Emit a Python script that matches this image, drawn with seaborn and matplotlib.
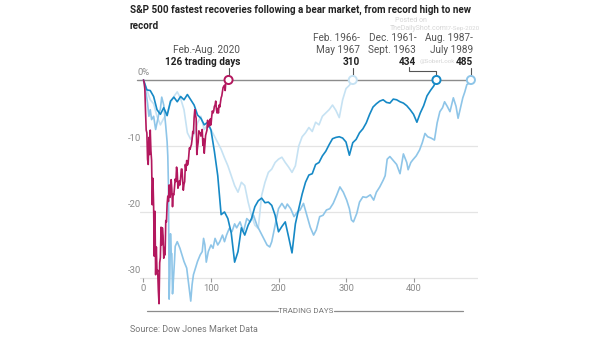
import numpy as np
import pandas as pd
import matplotlib
matplotlib.use("Agg")
import matplotlib.pyplot as plt
from matplotlib.lines import Line2D
from matplotlib import font_manager as fm
import seaborn as sns

# ---------------- data ----------------
title_line1 = "S&P 500 fastest recoveries following a bear market, from record high to new"
title_line2 = "record"
source_text = "Source: Dow Jones Market Data"
x_ticks = [0, 100, 200, 300, 400]
y_ticks = [0, -10, -20, -30]
y_tick_labels = ["0%", "-10", "-20", "-30"]

periods = ["Feb. 1966-May 1967", "Aug. 1987-July 1989", "Dec. 1961-Sept. 1963", "Feb.-Aug. 2020"]
period_colors = ["#c6e2f3", "#8ec5e8", "#1689c6", "#b3185e"]
recovery_days = [310, 485, 434, 126]

days_1966 = list(range(0, 306, 5)) + [310]
pct_1966 = [0, -1.5, -3.0, -3.6, -5.5, -6.8, -5.8, -5.0, -3.5, -2.5,
            -1.8, -2.8, -4.5, -8.0, -9.0, -8.2, -6.5, -5.5, -7.5, -6.8,
            -7.5, -8.5, -9.5, -10.5, -11.8, -13.0, -14.5, -16.0, -17.0, -15.5,
            -16.0, -18.5, -20.5, -22.0, -22.5, -17.5, -15.5, -14.0, -13.5, -12.5,
            -12.0, -11.7, -12.5, -13.2, -14.0, -13.0, -10.0, -8.6, -8.0, -7.2,
            -7.8, -6.4, -6.8, -5.5, -5.0, -4.5, -3.8, -4.6, -5.7, -3.0,
            -1.3, -0.8, 0]

days_1987 = [0, 2, 4, 6, 8, 10, 12, 15, 18, 20,
             23, 25, 27, 30, 33, 35, 36, 37, 38, 39,
             40, 41, 42, 43, 44, 46, 47, 50, 54, 57,
             60, 64, 67, 70, 72, 74, 77, 80, 84, 87,
             89, 91, 93, 96, 100, 103, 106, 110, 113, 117,
             120, 123, 127, 131, 135, 138, 143, 148, 153, 158,
             163, 168, 173, 178, 183, 187, 190, 195, 200, 205,
             210, 213, 218, 223, 228, 232, 237, 242, 247, 252,
             256, 261, 266, 271, 276, 281, 286, 291, 296, 301,
             305, 308, 311, 316, 320, 325, 330, 336, 341, 345,
             350, 355, 358, 361, 365, 370, 375, 380, 385, 390,
             392, 396, 399, 404, 409, 413, 417, 421, 426, 431,
             435, 439, 443, 446, 450, 454, 459, 463, 466, 470,
             473, 476, 479, 482, 485]
pct_1987 = [0, -1.0, -2.1, -3.5, -5.5, -4.5, -6.0, -5.5, -7.5, -6.5,
            -5.0, -4.4, -2.6, -3.8, -7.0, -9.4, -11.5, -16.1, -33.2, -29.7,
            -23.3, -26.3, -26.3, -32.4, -30.8, -27.3, -25.2, -24.5, -25.5, -26.5,
            -27.5, -28.5, -31.0, -33.5, -31.0, -29.5, -28.5, -27.5, -26.5, -26.0,
            -24.0, -25.0, -27.6, -26.0, -25.0, -25.5, -24.0, -25.0, -24.5, -23.5,
            -24.5, -23.5, -22.5, -23.0, -21.8, -22.4, -21.5, -23.0, -21.0, -21.5,
            -20.5, -22.0, -23.0, -24.0, -25.0, -25.3, -24.5, -22.0, -19.5, -18.7,
            -19.5, -18.8, -19.5, -20.7, -20.0, -19.7, -18.7, -20.5, -22.3, -23.5,
            -22.7, -20.7, -20.5, -19.7, -19.5, -18.7, -17.5, -16.2, -17.0, -18.2,
            -19.5, -21.2, -21.5, -20.2, -18.5, -17.7, -17.8, -17.4, -18.2, -17.0,
            -16.2, -15.2, -14.5, -12.0, -11.6, -12.2, -12.8, -14.2, -11.2, -12.5,
            -13.6, -12.5, -12.1, -11.5, -10.6, -9.5, -8.1, -8.6, -8.8, -9.1,
            -6.5, -4.8, -4.2, -3.3, -4.0, -4.8, -2.7, -4.0, -5.8, -4.0,
            -2.7, -1.8, -0.7, -0.5, 0]

days_1961 = list(range(0, 431, 5)) + [434]
pct_1961 = [0, -1.5, -1.6, -2.5, -4.5, -5.2, -4.2, -5.4, -3.2, -2.6,
            -3.3, -2.5, -3.0, -2.2, -3.0, -3.8, -5.3, -5.8, -6.8, -6.4,
            -7.6, -10.8, -14.5, -20.4, -20.0, -21.0, -23.2, -27.6, -26.0, -22.4,
            -23.5, -22.0, -21.0, -19.2, -18.3, -17.9, -18.6, -18.5, -19.0, -20.5,
            -23.0, -22.2, -21.5, -23.8, -26.2, -21.8, -19.5, -17.3, -15.5, -14.4,
            -14.2, -12.8, -12.5, -11.5, -10.8, -9.8, -8.9, -8.7, -8.6, -8.8,
            -9.4, -11.4, -9.5, -9.0, -8.0, -7.4, -6.5, -5.2, -4.1, -3.6,
            -3.2, -3.0, -3.4, -3.5, -2.9, -3.0, -3.3, -3.5, -3.9, -4.5,
            -5.2, -6.4, -5.0, -3.9, -2.4, -1.6, -0.9, 0]

days_2020 = list(range(0, 127))
pct_2020 = [0, -0.4, -1.4, -4.7, -7.6, -8.0, -12.0, -12.8, -8.7, -11.3,
            -7.6, -10.7, -12.2, -18.9, -14.9, -19.1, -26.7, -19.9, -29.5, -25.3,
            -29.2, -28.8, -31.9, -33.9, -27.7, -26.9, -22.3, -25.0, -22.4, -23.6,
            -27.0, -25.4, -26.5, -21.3, -21.5, -18.8, -17.6, -18.4, -15.9, -17.8,
            -17.3, -15.1, -16.6, -19.2, -17.3, -17.4, -16.2, -15.0, -15.4, -13.2,
            -14.0, -16.4, -16.0, -15.3, -15.9, -14.9, -13.5, -13.5, -15.2, -16.7,
            -15.8, -15.4, -12.8, -13.7, -12.2, -12.9, -12.7, -11.6, -10.3, -10.5,
            -10.1, -9.8, -9.0, -7.8, -8.1, -5.7, -4.5, -5.3, -5.8, -11.3,
            -10.2, -9.4, -7.7, -8.0, -8.0, -8.5, -7.9, -7.5, -9.9, -8.9,
            -11.1, -9.8, -8.4, -8.0, -7.6, -6.1, -7.1, -6.4, -6.9, -5.9,
            -6.8, -5.6, -4.7, -5.0, -4.7, -4.0, -3.8, -3.2, -4.4, -5.0,
            -4.3, -5.0, -3.8, -4.1, -3.4, -2.7, -2.4, -1.7, -1.1, -1.0,
            -0.8, -1.6, -0.2, -0.4, -0.4, -0.1, 0.0]

label_line1 = ["Feb. 1966-", "Aug. 1987-", "Dec. 1961-", "Feb.-Aug. 2020"]
label_line2 = ["May 1967", "July 1989", "Sept. 1963", "126 trading days"]
label_bold = ["310", "485", "434", ""]

# ---------------- build frame ----------------
frames = []
for name, d, p in zip(periods,
                      [days_1966, days_1987, days_1961, days_2020],
                      [pct_1966, pct_1987, pct_1961, pct_2020]):
    frames.append(pd.DataFrame({"day": d, "pct": p, "period": name}))
df = pd.concat(frames, ignore_index=True)

sns.set_theme(style="white")
names = {f.name for f in fm.fontManager.ttflist}
narrow = "Liberation Sans Narrow" if "Liberation Sans Narrow" in names else "Roboto"
plt.rcParams["font.family"] = [narrow, "DejaVu Sans"]

fig = plt.figure(figsize=(6.05, 3.41), dpi=100)
fig.patch.set_facecolor("white")
ax = fig.add_axes([0.2316, 0.0977, 0.5579, 0.6871])
ax.set_facecolor("white")

for v in y_ticks[1:]:
    ax.axhline(v, color="#e4e4e4", lw=0.9, zorder=0)
ax.axhline(0, xmin=-0.01, xmax=0.99, color="#8c8c8c", lw=1.0, zorder=1, clip_on=False)

sns.lineplot(data=df, x="day", y="pct", hue="period", hue_order=periods,
             palette=dict(zip(periods, period_colors)), estimator=None, sort=False,
             linewidth=1.2, legend=False, ax=ax, zorder=3)

ax.scatter(recovery_days, [0] * len(recovery_days), s=34, facecolor="white",
           edgecolor=period_colors, linewidth=1.4, zorder=6, clip_on=False)

ax.set_xlim(-5, 495)
ax.set_ylim(-34.5, 1.0)
for s in ["top", "right", "left"]:
    ax.spines[s].set_visible(False)
ax.spines["bottom"].set_position(("data", -30))
ax.spines["bottom"].set_color("none")
ax.set_xticks(x_ticks)
ax.set_xticklabels([str(t) for t in x_ticks])
ax.tick_params(axis="x", direction="out", length=3, width=0.8, color="#9a9a9a",
               labelsize=6.8, labelcolor="#8a8a8a", pad=1.5, bottom=True)
ax.set_yticks([])
ax.set_xlabel("")
ax.set_ylabel("")

# y labels
for v, lab in zip(y_ticks, y_tick_labels):
    if v == 0:
        ax.text(-9.5, v + 0.4, lab, ha="left", va="bottom", fontsize=6.8, color="#8a8a8a")
    else:
        ax.text(-3.5, v + 0.4, lab, ha="right", va="bottom", fontsize=6.8, color="#8a8a8a")

# annotations
fs_ann = 7.2
label_right = [321, 488, 404, 143]
for i, name in enumerate(periods):
    xr = label_right[i]
    if label_bold[i]:
        ax.text(xr, 6.4, label_line1[i], ha="right", va="center", fontsize=fs_ann,
                color="#555555", clip_on=False, zorder=7)
        ax.text(xr, 4.6, label_line2[i], ha="right", va="center", fontsize=fs_ann,
                color="#555555", clip_on=False, zorder=7)
        ax.text(xr, 2.7, label_bold[i], ha="right", va="center", fontsize=fs_ann,
                color="#222222", fontweight="bold", clip_on=False, zorder=7)
    else:
        ax.text(xr, 4.6, label_line1[i], ha="right", va="center", fontsize=fs_ann,
                color="#555555", clip_on=False, zorder=7)
        ax.text(xr, 2.7, label_line2[i], ha="right", va="center", fontsize=fs_ann,
                color="#222222", fontweight="bold", clip_on=False, zorder=7)
    d = recovery_days[i]
    if d == 434:
        ax.plot([393, 393, d, d], [1.9, 1.4, 1.4, 0.65], color="#555555", lw=0.8,
                clip_on=False, zorder=4)
    else:
        ax.plot([d, d], [1.8, 0.65], color="#555555", lw=0.8, clip_on=False, zorder=4)

# title, source, axis label
fig.text(130 / 605, 1 - 10 / 341, title_line1, ha="left", va="center", fontsize=7.1,
         fontweight="bold", color="#222222")
fig.text(130 / 605, 1 - 26 / 341, title_line2, ha="left", va="center", fontsize=7.1,
         fontweight="bold", color="#222222")
fig.text(130 / 605, 1 - 330 / 341, source_text, ha="left", va="center", fontsize=6.5,
         color="#777777")
fig.text(306 / 605, 1 - 311 / 341, "TRADING DAYS", ha="center", va="center",
         fontsize=5.8, color="#777777")
fig.add_artist(Line2D([147 / 605, 278 / 605], [1 - 311 / 341] * 2, color="#8c8c8c", lw=0.9))
fig.add_artist(Line2D([334 / 605, 463 / 605], [1 - 311 / 341] * 2, color="#8c8c8c", lw=0.9))

# faint watermark
wm = "#d6d6d6"
fig.text(411 / 605, 1 - 20 / 341, "Posted on", ha="center", va="center", fontsize=5, color=wm, zorder=0)
fig.text(418 / 605, 1 - 28.5 / 341, "TheDailyShot.com", ha="center", va="center", fontsize=5, color=wm, zorder=0)
fig.text(462 / 605, 1 - 28.5 / 341, "17-Sep-2020", ha="center", va="center", fontsize=4.5, color=wm, zorder=0)
fig.text(437 / 605, 1 - 62 / 341, "@SoberLook", ha="center", va="center", fontsize=4.5, color=wm, zorder=0)

fig.savefig("out.png", dpi=100, facecolor="white")
